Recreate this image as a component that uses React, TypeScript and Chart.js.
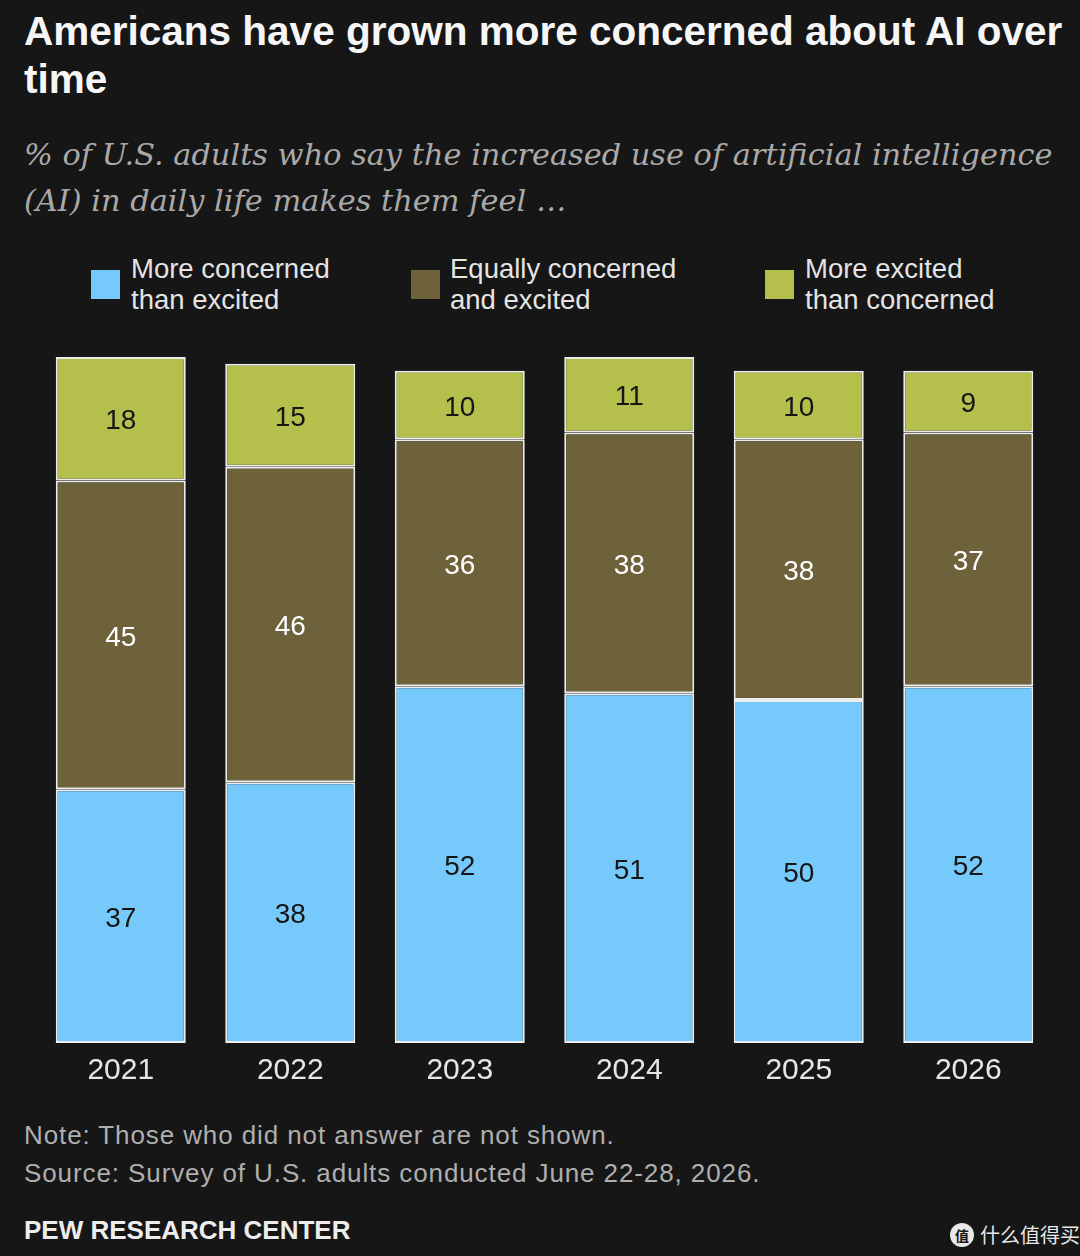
import React, { useEffect, useRef } from "react";
import { Chart, registerables } from "chart.js";

Chart.register(...registerables);

const years = ["2021", "2022", "2023", "2024", "2025", "2026"];
const moreConcerned = [37, 38, 52, 51, 50, 52];
const equallyBoth = [45, 46, 36, 38, 38, 37];
const moreExcited = [18, 15, 10, 11, 10, 9];

const seriesNames = ["More concerned than excited", "Equally concerned and excited", "More excited than concerned"];
const seriesColors = ["#76CAFB", "#6D6239", "#B4BF4C"];
const labelColors = ["#151515", "#FFFFFF", "#151515"];

const BG = "#161616";

const valueLabels = {
  id: "valueLabels",
  afterDatasetsDraw(chart: any) {
    const ctx = chart.ctx;
    ctx.save();
    ctx.font = "28px 'Liberation Sans', Arial, sans-serif";
    ctx.textAlign = "center";
    ctx.textBaseline = "middle";
    chart.data.datasets.forEach((ds: any, di: number) => {
      const meta = chart.getDatasetMeta(di);
      meta.data.forEach((bar: any, i: number) => {
        const v = ds.data[i];
        const { x, y, base } = bar.getProps(["x", "y", "base"], true);
        ctx.fillStyle = labelColors[di];
        ctx.fillText(String(v), x, (y + base) / 2 + 3);
      });
    });
    ctx.restore();
  },
};

function ChartCanvas() {
  const ref = useRef<HTMLCanvasElement>(null);
  useEffect(() => {
    if (!ref.current) return;
    const data = [moreConcerned, equallyBoth, moreExcited];
    const chart = new Chart(ref.current, {
      type: "bar",
      data: {
        labels: years,
        datasets: data.map((d, i) => ({
          label: seriesNames[i],
          data: d,
          backgroundColor: seriesColors[i],
          borderColor: "#EDEDED",
          borderWidth: 2,
          borderSkipped: false,
          barPercentage: 0.767,
          categoryPercentage: 1,
        })),
      },
      options: {
        animation: false,
        responsive: false,
        maintainAspectRatio: false,
        devicePixelRatio: 1,
        layout: { padding: { left: 36, right: 27, top: 17, bottom: 0 } },
        plugins: { legend: { display: false }, tooltip: { enabled: false } },
        scales: {
          x: {
            stacked: true,
            grid: { display: false },
            border: { display: false },
            ticks: {
              color: "#E6E6E6",
              font: { size: 30, family: "'Liberation Sans', Arial, sans-serif" },
              padding: 2,
            },
          },
          y: {
            stacked: true,
            display: false,
            min: 0,
            max: 100,
          },
        },
      },
      plugins: [valueLabels],
    });
    return () => chart.destroy();
  }, []);
  return (
    <canvas
      ref={ref}
      width={1080}
      height={751}
      style={{ position: "absolute", left: 0, top: 340, width: 1080, height: 751 }}
    />
  );
}

const legendItems = [
  { color: seriesColors[0], l1: "More concerned", l2: "than excited", sq: 91, tx: 131 },
  { color: seriesColors[1], l1: "Equally concerned", l2: "and excited", sq: 411, tx: 450 },
  { color: seriesColors[2], l1: "More excited", l2: "than concerned", sq: 765, tx: 805 },
];

export default function App() {
  useEffect(() => {
    document.body.style.margin = "0";
    document.body.style.background = BG;
  }, []);
  const sans = "'Liberation Sans', Arial, sans-serif";
  return (
    <div style={{ position: "relative", width: 1080, height: 1256, background: BG, overflow: "hidden", fontFamily: sans }}>
      <div
        style={{
          position: "absolute",
          left: 24,
          top: 7,
          color: "#F6F6F6",
          fontWeight: 700,
          fontSize: 40.5,
          lineHeight: "48px",
          whiteSpace: "nowrap",
        }}
      >
        Americans have grown more concerned about AI over
        <br />
        time
      </div>
      <div
        style={{
          position: "absolute",
          left: 24,
          top: 132,
          color: "#A9A9A9",
          fontStyle: "italic",
          fontFamily: "'DejaVu Serif', serif",
          fontSize: 30.4,
          lineHeight: "46px",
          whiteSpace: "nowrap",
        }}
      >
        % of U.S. adults who say the increased use of artificial intelligence
        <br />
        (AI) in daily life makes them feel …
      </div>
      {legendItems.map((it, i) => (
        <React.Fragment key={i}>
          <div style={{ position: "absolute", left: it.sq, top: 270, width: 29, height: 29, background: it.color }} />
          <div
            style={{
              position: "absolute",
              left: it.tx,
              top: 253,
              color: "#E4E4E4",
              fontSize: 27.5,
              lineHeight: "31px",
              whiteSpace: "nowrap",
            }}
          >
            {it.l1}
            <br />
            {it.l2}
          </div>
        </React.Fragment>
      ))}
      <ChartCanvas />
      <div
        style={{
          position: "absolute",
          left: 24,
          top: 1116,
          color: "#AEAEAE",
          fontSize: 26,
          letterSpacing: 0.9,
          lineHeight: "38px",
          whiteSpace: "nowrap",
        }}
      >
        Note: Those who did not answer are not shown.
        <br />
        Source: Survey of U.S. adults conducted June 22-28, 2026.
      </div>
      <div
        style={{
          position: "absolute",
          left: 24,
          top: 1214,
          color: "#EDEDED",
          fontSize: 26,
          fontWeight: 700,
          lineHeight: "32px",
          whiteSpace: "nowrap",
        }}
      >
        PEW RESEARCH CENTER
      </div>
      <div
        style={{
          position: "absolute",
          left: 950,
          top: 1220,
          display: "flex",
          alignItems: "center",
          gap: 6,
          color: "#E8E8E8",
          fontFamily: "'Noto Sans CJK SC', sans-serif",
          fontSize: 20,
        }}
      >
        <div
          style={{
            width: 24,
            height: 24,
            borderRadius: 12,
            background: "#E8E8E8",
            color: BG,
            fontSize: 14,
            fontWeight: 700,
            display: "flex",
            alignItems: "center",
            justifyContent: "center",
          }}
        >
          值
        </div>
        <span>什么值得买</span>
      </div>
    </div>
  );
}
